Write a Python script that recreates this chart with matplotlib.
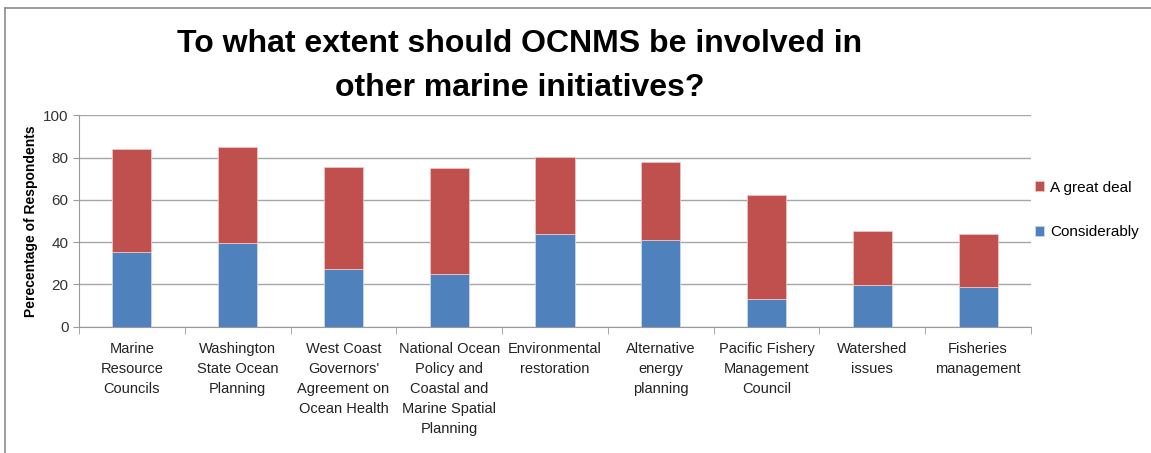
import matplotlib.pyplot as plt
import numpy as np
from matplotlib.lines import Line2D

categories = [
    "Marine\nResource\nCouncils",
    "Washington\nState Ocean\nPlanning",
    "West Coast\nGovernors'\nAgreement on\nOcean Health",
    "National Ocean\nPolicy and\nCoastal and\nMarine Spatial\nPlanning",
    "Environmental\nrestoration",
    "Alternative\nenergy\nplanning",
    "Pacific Fishery\nManagement\nCouncil",
    "Watershed\nissues",
    "Fisheries\nmanagement",
]
considerably = [35.5, 39.4, 27.1, 25.1, 43.7, 41.0, 13.0, 19.7, 18.8]
great_deal_total = [83.9, 84.9, 75.7, 74.9, 80.1, 78.0, 62.4, 45.4, 44.0]
great_deal = [t - c for t, c in zip(great_deal_total, considerably)]

blue = "#4f81bd"
red = "#c0504d"
plt.rcParams['font.family'] = ["Liberation Sans", "DejaVu Sans"]

fig = plt.figure(figsize=(11.51, 4.53), dpi=100)
ax = fig.add_axes([79 / 1151, 1 - 326.7 / 453, (1031 - 79) / 1151, (326.7 - 115.3) / 453])

x = np.arange(len(categories))
w = 0.37
ax.bar(x, considerably, w, color=blue, edgecolor="#c9d6ea", linewidth=0.6, label="Considerably", zorder=3)
ax.bar(x, great_deal, w, bottom=considerably, color=red, edgecolor="#ecc6c5", linewidth=0.6,
       label="A great deal", zorder=3)

ax.set_xlim(-0.5, len(categories) - 0.5)
ax.set_ylim(0, 100)
ax.set_yticks(range(0, 101, 20))
ax.yaxis.grid(True, color="#a6a6a6", linewidth=1.0, zorder=0)
for s in ["top", "right"]:
    ax.spines[s].set_visible(False)
for s in ["left", "bottom"]:
    ax.spines[s].set_color("#9a9a9a")
ax.tick_params(axis="y", colors="#9a9a9a", labelcolor="#333333", labelsize=11, length=4)
ax.set_xticks(x)
ax.set_xticklabels(categories, fontsize=10.5, color="#222222", linespacing=1.55, va="top")
ax.tick_params(axis="x", length=0, pad=11)
ax.set_xticks(np.arange(-0.5, len(categories)), minor=True)
ax.tick_params(axis="x", which="minor", length=5, color="#9a9a9a")

ax.set_ylabel("Perecentage of Respondents", fontsize=10, fontweight="bold", labelpad=4)

fig.text(520 / 1151, 1 - 66 / 453,
         "To what extent should OCNMS be involved in\nother marine initiatives?",
         ha="center", va="center", fontsize=23, fontweight="bold", linespacing=1.6)

handles, labels = ax.get_legend_handles_labels()
fig.legend(handles[::-1], labels[::-1], loc="center left",
           bbox_to_anchor=(1021 / 1151, 1 - 210 / 453), frameon=False,
           fontsize=11, handlelength=0.6, handleheight=0.6, handletextpad=0.4,
           labelspacing=2.0)

# chart frame (top and left edges visible)
fig.add_artist(Line2D([5 / 1151, 5 / 1151], [0, 1 - 8 / 453], transform=fig.transFigure,
                      color="#8c8c8c", linewidth=1.2))
fig.add_artist(Line2D([5 / 1151, 1], [1 - 8 / 453, 1 - 8 / 453], transform=fig.transFigure,
                      color="#8c8c8c", linewidth=1.2))

fig.savefig("out.png", dpi=100)
